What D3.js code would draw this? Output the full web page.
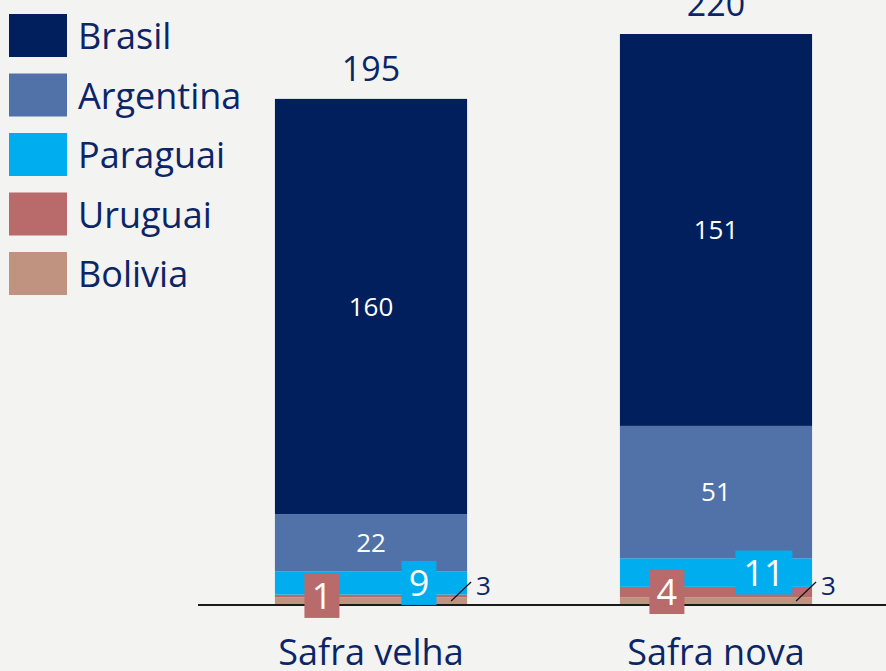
<!DOCTYPE html>
<html>
<head>
<meta charset="utf-8">
<script src="https://cdn.jsdelivr.net/npm/d3@7"></script>
<style>
  body { margin: 0; background: #f3f3f1; }
  svg { display: block; font-family: "Open Sans", sans-serif; }
</style>
</head>
<body>
<div id="chart"></div>
<script>
// Data
var categories = ["Safra velha", "Safra nova"];
var countries = ["Bolivia", "Uruguai", "Paraguai", "Argentina", "Brasil"];
var bolivia = [3, 3];
var uruguai = [1, 4];
var paraguai = [9, 11];
var argentina = [22, 51];
var brasil = [160, 151];
var totals = [195, 220];

var colors = {
    "Brasil": "#001f5c",
    "Argentina": "#5072a8",
    "Paraguai": "#00aeef",
    "Uruguai": "#b96b6b",
    "Bolivia": "#c09280"
};
var navy = "#0b2566";

var svgWidth = 886;
var svgHeight = 671;
var baseY = 605;

var svg = d3.select("#chart")
    .append("svg")
    .attr("width", svgWidth)
    .attr("height", svgHeight);

svg.append("rect").attr("width", svgWidth).attr("height", svgHeight).attr("fill", "#f3f3f1");

// build table for stacking
var table = categories.map(function (c, i) {
    return {
        cat: c,
        "Bolivia": bolivia[i],
        "Uruguai": uruguai[i],
        "Paraguai": paraguai[i],
        "Argentina": argentina[i],
        "Brasil": brasil[i]
    };
});

var stacked = d3.stack().keys(countries)(table);

var x = d3.scaleBand()
    .domain(categories)
    .range([198, 889])
    .paddingInner(0.443)
    .paddingOuter(0.223);

var y = d3.scaleLinear()
    .domain([0, 220])
    .range([baseY, 34]);

// bars
var layers = svg.append("g")
    .selectAll("g")
    .data(stacked)
    .enter()
    .append("g")
    .attr("fill", function (d) { return colors[d.key]; });

layers.selectAll("rect")
    .data(function (d) { return d; })
    .enter()
    .append("rect")
    .attr("x", function (d) { return x(d.data.cat); })
    .attr("y", function (d) { return y(d[1]); })
    .attr("width", x.bandwidth())
    .attr("height", function (d) { return y(d[0]) - y(d[1]); });

// baseline
svg.append("line")
    .attr("x1", 198).attr("x2", 886)
    .attr("y1", baseY).attr("y2", baseY)
    .attr("stroke", "#1a1a1a")
    .attr("stroke-width", 2);

var byKey = {};
stacked.forEach(function (s) { byKey[s.key] = s; });

function mid(d) { return (y(d[0]) + y(d[1])) / 2; }

// white labels inside the big segments
["Brasil", "Argentina"].forEach(function (k) {
    svg.append("g").selectAll("text")
        .data(byKey[k])
        .enter()
        .append("text")
        .attr("x", function (d) { return x(d.data.cat) + x.bandwidth() / 2; })
        .attr("y", function (d) { return mid(d); })
        .attr("dy", "0.36em")
        .attr("text-anchor", "middle")
        .attr("fill", "#fff")
        .style("font-size", "26px")
        .text(function (d) { return d[1] - d[0]; });
});

// boxed labels for small segments
function boxLabels(key, offset) {
    var g = svg.append("g").selectAll("g")
        .data(byKey[key])
        .enter()
        .append("g")
        .attr("transform", function (d) {
            return "translate(" + (x(d.data.cat) + offset) + "," + mid(d) + ")";
        });
    g.append("rect")
        .attr("x", function (d) { return String(d[1] - d[0]).length > 1 ? -28.5 : -17.5; })
        .attr("y", -22)
        .attr("width", function (d) { return String(d[1] - d[0]).length > 1 ? 57 : 35; })
        .attr("height", 44)
        .attr("fill", colors[key]);
    g.append("text")
        .attr("text-anchor", "middle")
        .attr("dy", "0.36em")
        .attr("fill", "#fff")
        .style("font-size", "36px")
        .text(function (d) { return d[1] - d[0]; });
}
boxLabels("Uruguai", 47);
boxLabels("Paraguai", 144);

// Bolivia: leader line and outside label
var bol = svg.append("g").selectAll("g")
    .data(byKey["Bolivia"])
    .enter()
    .append("g")
    .attr("transform", function (d) { return "translate(" + (x(d.data.cat) + x.bandwidth()) + ",0)"; });
bol.append("line")
    .attr("x1", -16).attr("y1", baseY - 4)
    .attr("x2", 4).attr("y2", 582)
    .attr("stroke", "#111")
    .attr("stroke-width", 1.2);
bol.append("text")
    .attr("x", 9)
    .attr("y", 595)
    .attr("fill", navy)
    .style("font-size", "26px")
    .text(function (d) { return d[1] - d[0]; });

// totals
svg.append("g").selectAll("text")
    .data(categories)
    .enter()
    .append("text")
    .attr("x", function (d) { return x(d) + x.bandwidth() / 2; })
    .attr("y", function (d, i) { return y(totals[i]) - 18; })
    .attr("text-anchor", "middle")
    .attr("fill", navy)
    .style("font-size", "34px")
    .text(function (d, i) { return totals[i]; });

// x axis labels
var xAxis = svg.append("g")
    .attr("transform", "translate(0," + baseY + ")")
    .call(d3.axisBottom(x).tickSize(0).tickPadding(0));
xAxis.select(".domain").remove();
xAxis.selectAll("text")
    .attr("y", 60)
    .attr("dy", 0)
    .attr("fill", navy)
    .style("font-size", "36px")
    .style("font-family", "'Open Sans', sans-serif");

// legend
var legendOrder = ["Brasil", "Argentina", "Paraguai", "Uruguai", "Bolivia"];
var legend = svg.append("g")
    .selectAll("g")
    .data(legendOrder)
    .enter()
    .append("g")
    .attr("transform", function (d, i) { return "translate(9," + (14 + i * 59.5) + ")"; });
legend.append("rect")
    .attr("width", 58)
    .attr("height", 43)
    .attr("fill", function (d) { return colors[d]; });
legend.append("text")
    .attr("x", 69)
    .attr("y", 35)
    .attr("fill", navy)
    .style("font-size", "36px")
    .text(function (d) { return d; });
</script>
</body>
</html>
